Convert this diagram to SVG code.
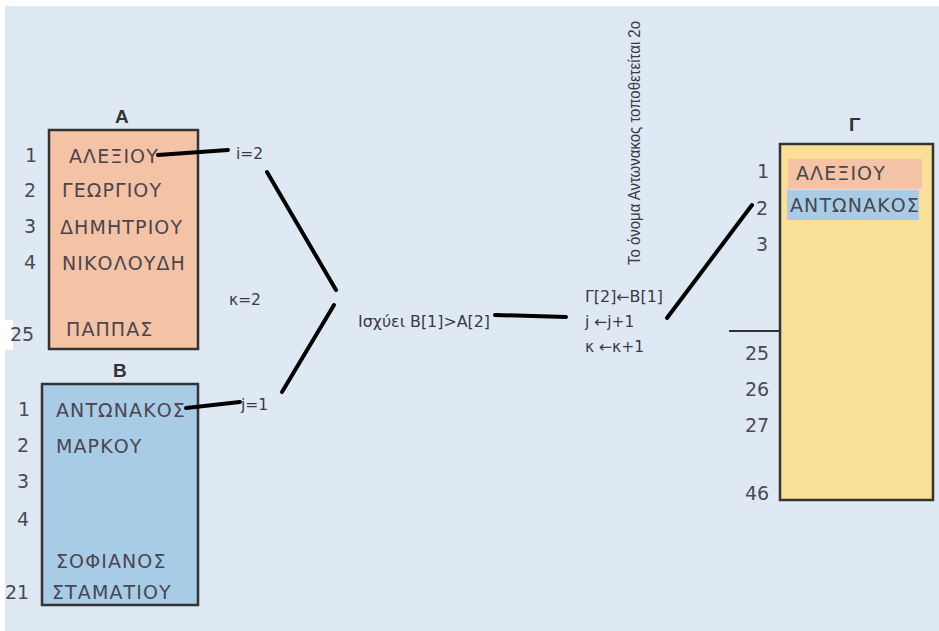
<svg xmlns="http://www.w3.org/2000/svg" width="939" height="631" viewBox="0 0 939 631">
<style>
.t{font-family:"DejaVu Sans","Liberation Sans",sans-serif;font-size:19px;fill:#4a4550;letter-spacing:1.1px}
.n{font-family:"DejaVu Sans","Liberation Sans",sans-serif;font-size:19px;fill:#4a4a55}
.s{font-family:"DejaVu Sans","Liberation Sans",sans-serif;font-size:15.5px;fill:#3a3a42}
.h{font-family:"Liberation Sans","DejaVu Sans",sans-serif;font-size:19px;font-weight:bold;fill:#333}
.box{stroke:#333;stroke-width:2.5}
.c{stroke:#000;stroke-width:4;stroke-linecap:round;fill:none}
</style>
<rect x="0" y="0" width="939" height="631" fill="#ffffff"/>
<rect x="5" y="6" width="934" height="625" fill="#dfe9f4"/>
<g id="A">
<text class="h" x="115" y="123">A</text>
<rect class="box" x="49" y="130" width="149" height="219" fill="#f4c2a4"/>
<rect x="0" y="320" width="13" height="30" fill="#ffffff"/>
<text class="n" x="25" y="162">1</text>
<text class="n" x="24" y="197">2</text>
<text class="n" x="24" y="233">3</text>
<text class="n" x="24" y="269">4</text>
<text class="n" x="10" y="341">25</text>
<text class="t" x="69" y="163">ΑΛΕΞΙΟΥ</text>
<text class="t" x="62" y="197">ΓΕΩΡΓΙΟΥ</text>
<text class="t" x="60" y="234">ΔΗΜΗΤΡΙΟΥ</text>
<text class="t" x="62" y="270">ΝΙΚΟΛΟΥΔΗ</text>
<text class="t" x="66" y="336">ΠΑΠΠΑΣ</text>
</g>
<g id="B">
<text class="h" x="113" y="377">B</text>
<rect class="box" x="42" y="384" width="156" height="221" fill="#a8cce6"/>
<text class="n" x="18" y="416">1</text>
<text class="n" x="17" y="452">2</text>
<text class="n" x="17" y="488">3</text>
<text class="n" x="17" y="526">4</text>
<text class="n" x="5" y="599">21</text>
<text class="t" x="56" y="417">ΑΝΤΩΝΑΚΟΣ</text>
<text class="t" x="56" y="453">ΜΑΡΚΟΥ</text>
<text class="t" x="56" y="568">ΣΟΦΙΑΝΟΣ</text>
<text class="t" x="52" y="599">ΣΤΑΜΑΤΙΟΥ</text>
</g>
<g id="G">
<text class="h" x="849" y="131">Γ</text>
<rect class="box" x="780" y="144" width="153" height="356" fill="#f9e096"/>
<rect x="788" y="159" width="134" height="30" fill="#f4c2a4"/>
<rect x="787" y="190" width="132" height="30" fill="#a8cce6"/>
<text class="t" x="796" y="180">ΑΛΕΞΙΟΥ</text>
<text class="t" x="790" y="212">ΑΝΤΩΝΑΚΟΣ</text>
<line x1="729" y1="331" x2="780" y2="331" stroke="#333" stroke-width="2"/>
<text class="n" x="757" y="178">1</text>
<text class="n" x="756" y="215">2</text>
<text class="n" x="756" y="251">3</text>
<text class="n" x="745" y="360">25</text>
<text class="n" x="745" y="396">26</text>
<text class="n" x="745" y="432">27</text>
<text class="n" x="745" y="500">46</text>
</g>
<g id="labels">
<text class="s" x="236" y="159">i=2</text>
<text class="s" x="229" y="305">κ=2</text>
<text class="s" x="241" y="410">j=1</text>
<text class="s" x="358" y="327" textLength="132" lengthAdjust="spacingAndGlyphs">Ισχύει B[1]&gt;A[2]</text>
<text class="s" x="585" y="302" textLength="78" lengthAdjust="spacingAndGlyphs">Γ[2]←B[1]</text>
<text class="s" x="585" y="327">j ←j+1</text>
<text class="s" x="585" y="352">κ ←κ+1</text>
<text transform="translate(640,265) rotate(-90)" font-family="Liberation Sans, sans-serif" font-size="16" fill="#3a3a42" textLength="244" lengthAdjust="spacingAndGlyphs">Το όνομα Αντωνακος τοποθετείται 2ο</text>
</g>
<g id="connectors">
<path class="c" d="M158 155 L228 150"/>
<path class="c" d="M267 172 L336 290"/>
<path class="c" d="M334 305 L282 392"/>
<path class="c" d="M186 408 L240 402"/>
<path class="c" d="M495 315 L566 317"/>
<path class="c" d="M667 318 L752 205"/>
</g>
</svg>
